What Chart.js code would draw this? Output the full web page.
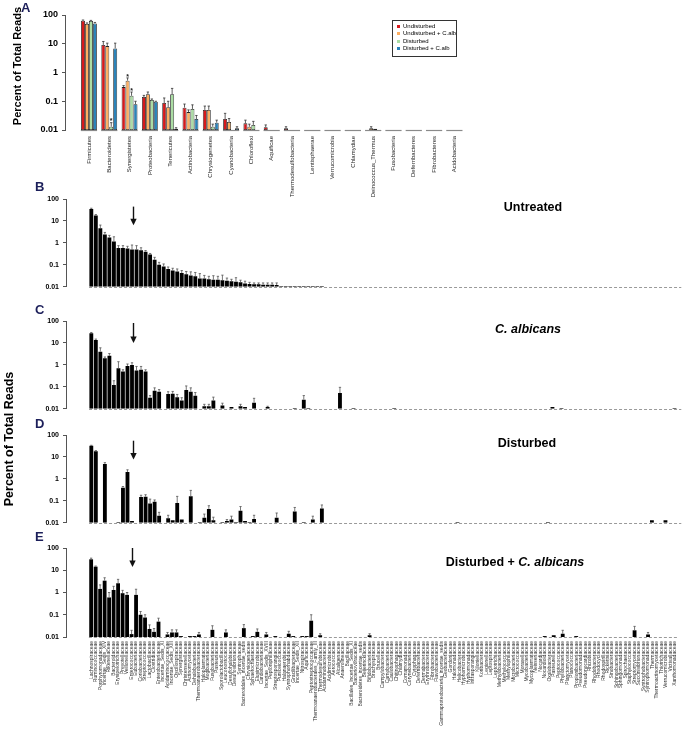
<!DOCTYPE html>
<html>
<head>
<meta charset="utf-8">
<script src="https://cdn.jsdelivr.net/npm/chart.js@4.4.0/dist/chart.umd.min.js"></script>
<style>
  body { margin: 0; background: #fff; font-family: "Liberation Sans", Arial, sans-serif; }
  #fig { position: relative; width: 685px; height: 739px; overflow: hidden; }
  canvas { position: absolute; }
  .letra { position: absolute; font-weight: bold; font-size: 13px; line-height: 13px; color: #1c1f5a; }
  .titulo { position: absolute; font-weight: bold; font-size: 12.5px; white-space: nowrap; transform: translate(-50%, -50%); }
  .ylab { position: absolute; width: 240px; text-align: center; font-weight: bold; white-space: nowrap; transform: rotate(-90deg); }
  #leyenda { position: absolute; left: 392px; top: 20px; width: 63px; height: 33px; border: 1px solid #333; font-size: 6px; line-height: 7.4px; padding-top: 2px; box-sizing: content-box; }
  #leyenda div { padding-left: 10px; position: relative; white-space: nowrap; }
  #leyenda span { position: absolute; left: 4px; top: 2px; width: 3px; height: 3px; }
</style>
</head>
<body>
<div id="fig">
  <canvas id="chartA" width="480" height="205" style="left:0;top:0"></canvas>
  <canvas id="chartB" width="685" height="110" style="left:0;top:185px"></canvas>
  <canvas id="chartC" width="685" height="110" style="left:0;top:307px"></canvas>
  <canvas id="chartD" width="685" height="110" style="left:0;top:421px"></canvas>
  <canvas id="chartE" width="685" height="205" style="left:0;top:534px"></canvas>

  <div class="letra" style="left:21px;top:1px">A</div>
  <div class="letra" style="left:35px;top:180px">B</div>
  <div class="letra" style="left:35px;top:303px">C</div>
  <div class="letra" style="left:35px;top:417px">D</div>
  <div class="letra" style="left:35px;top:530px">E</div>

  <div class="ylab" style="font-size:11px;left:-103px;top:60px">Percent of Total Reads</div>
  <div class="ylab" style="font-size:12.5px;left:-111px;top:432px">Percent of Total Reads</div>

  <div class="titulo" style="left:533px;top:207px">Untreated</div>
  <div class="titulo" style="left:528px;top:329px"><i>C. albicans</i></div>
  <div class="titulo" style="left:527px;top:443px">Disturbed</div>
  <div class="titulo" style="left:515px;top:562px">Disturbed + <i>C. albicans</i></div>

  <div id="leyenda">
    <div><span style="background:#d7191c"></span>Undisturbed</div>
    <div><span style="background:#fdae61"></span>Undisturbed + C.alb</div>
    <div><span style="background:#abdda4"></span>Disturbed</div>
    <div><span style="background:#2b83ba"></span>Disturbed + C.alb</div>
  </div>
</div>

<script>
// Panel A: filos
const filos = ['Firmicutes', 'Bacteroidetes', 'Synergistetes', 'Proteobacteria', 'Tenericutes', 'Actinobacteria',
  'Chrysiogenetes', 'Cyanobacteria', 'Chloroflexi', 'Aquificae', 'Thermodesulfobacteria', 'Lentisphaerae',
  'Verrucomicrobia', 'Chlamydiae', 'Deinococcus_Thermus', 'Fusobacteria', 'Deferribacteres', 'Fibrobacteres', 'Acidobacteria'];
const seriesA = ['Undisturbed', 'Undisturbed + C.alb', 'Disturbed', 'Disturbed + C.alb'];
const coloresA = ['#d7191c', '#fdae61', '#abdda4', '#2b83ba'];

const undistA     = [63, 9.1, 0.31, 0.14, 0.087, 0.06, 0.05, 0.024, 0.017, 0.0125, 0.0115, 0.01, 0.01, 0.01, 0.01, 0.01, 0.01, 0.01, 0.01];
const undistCalbA = [49, 8.3, 0.52, 0.175, 0.062, 0.042, 0.05, 0.019, 0.013, 0.01, 0.01, 0.01, 0.01, 0.01, 0.0115, 0.01, 0.01, 0.01, 0.01];
const distA       = [62, 0.013, 0.155, 0.11, 0.175, 0.054, 0.013, 0.01, 0.015, 0.01, 0.01, 0.01, 0.01, 0.01, 0.011, 0.01, 0.01, 0.01, 0.01];
const distCalbA   = [51, 6.9, 0.079, 0.096, 0.011, 0.024, 0.018, 0.0115, 0.01, 0.01, 0.01, 0.01, 0.01, 0.01, 0.01, 0.01, 0.01, 0.01, 0.01];

// extremo superior de las barras de error
const errUndistA     = [67, 12, 0.35, 0.16, 0.13, 0.08, 0.068, 0.038, 0.022, 0.015, 0.013, null, null, null, null, null, null, null, null];
const errUndistCalbA = [53, 10.5, 0.65, 0.21, 0.1, 0.05, 0.068, 0.025, 0.016, null, null, null, null, null, 0.013, null, null, null, null];
const errDistA       = [65, 0.018, 0.21, 0.12, 0.28, 0.075, 0.016, null, 0.02, null, null, null, null, null, null, null, null, null, null];
const errDistCalbA   = [55, 10.5, 0.1, 0.1, 0.012, 0.032, 0.022, 0.013, null, null, null, null, null, null, null, null, null, null, null];

// asteriscos: grupo, serie, valor
const astGrupo = [1, 2, 2];
const astSerie = [2, 1, 2];
const astValor = [0.024, 0.8, 0.27];

// Paneles B-E: familias
const familias = [
  'Lachnospiraceae', 'Ruminococcaceae', 'Porphyromonadaceae', 'Incertae_Sedis_XIV', 'Rikenellaceae', 'Bacteroidaceae', 'Erysipelotrichaceae', 'Prevotellaceae', 'Veillonellaceae', 'Enterococcaceae',
  'Eubacteriaceae', 'Coriobacteriaceae', 'Streptococcaceae', 'Lactobacillaceae', 'Clostridiaceae', 'Enterobacteriaceae', 'Incertae_Sedis_XI', 'Acidaminococcaceae', 'Incertae_Sedis_XIII', 'Oscillospiraceae',
  'Synergistaceae', 'Christensenellaceae', 'Actinomycetaceae', 'Dehalobacteriaceae', 'Thermoanaerobacteraceae', 'Haloplasmataceae', 'Mogibacteriaceae', 'Fusobacteriaceae', 'Pasteuriaceae', 'Sporolactobacillaceae',
  'Leuconostocaceae', 'Desulfohalobiaceae', 'Desulfovibrionaceae', 'Syntrophaceae', 'Bacteroidales_incertae_sedis', 'Chrysiogenaceae', 'Sphaerochaetaceae', 'Elusimicrobiaceae', 'Cardiobacteriaceae', 'Incertae_Sedis_XVIII',
  'Peptoniphilaceae', 'Streptosporangiaceae', 'Puniceicoccaceae', 'Halanaerobiaceae', 'Syntrophorhabdaceae', 'Gracilibacteraceae', 'Incertae_Sedis_XII', 'Nitrospiraceae', 'Aquificaceae', 'Peptostreptococcaceae',
  'Thermoanaerobacterales_Family_III', 'Thermodesulfobiaceae',
  'Acidaminobacteraceae', 'Acidimicrobiaceae', 'Aerococcaceae', 'Alcaligenaceae', 'Anaerolineaceae', 'Bacillaceae', 'Bacillales_Incertae_Sedis_XI', 'Bacteriovoracaceae', 'Bacteroidetes_incertae_sedis', 'Beijerinckiaceae',
  'Bifidobacteriaceae', 'Brachyspiraceae', 'Brucellaceae', 'Campylobacteraceae', 'Carnobacteriaceae', 'Caulobacteraceae', 'Chitinophagaceae', 'Chlamydiaceae', 'Comamonadaceae', 'Corynebacteriaceae',
  'Cytophagaceae', 'Deferribacteraceae', 'Dermabacteraceae', 'Erythrobacteraceae', 'Fibrobacteraceae', 'Flavobacteriaceae', 'Gammaproteobacteria_incertae_sedis', 'Geobacteraceae', 'Gordoniaceae', 'Halomonadaceae',
  'Helicobacteraceae', 'Hyphomicrobiaceae', 'Hyphomonadaceae', 'Intrasporangiaceae', 'Kiloniellaceae', 'Koribacteraceae', 'Legionellaceae', 'Leptospiraceae', 'Leptotrichiaceae', 'Methylobacteriaceae',
  'Methylococcaceae', 'Methylophilaceae', 'Microbacteriaceae', 'Micrococcaceae', 'Moraxellaceae', 'Mycobacteriaceae', 'Mycoplasmataceae', 'Neisseriaceae', 'Nocardiaceae', 'Nocardioidaceae',
  'Oxalobacteraceae', 'Pasteurellaceae', 'Peptococcaceae', 'Phyllobacteriaceae', 'Planctomycetaceae', 'Planococcaceae', 'Propionibacteriaceae', 'Pseudomonadaceae', 'Pseudonocardiaceae', 'Rhizobiaceae',
  'Rhodobacteraceae', 'Rhodocyclaceae', 'Rhodospirillaceae', 'Rickettsiaceae', 'Sinobacteraceae', 'Sphingobacteriaceae', 'Sphingomonadaceae', 'Spirochaetaceae', 'Staphylococcaceae', 'Streptomycetaceae',
  'Succinivibrionaceae', 'Syntrophobacteraceae', 'Syntrophomonadaceae', 'Thermaceae', 'Thermoactinomycetaceae', 'Thiotrichaceae', 'Verrucomicrobiaceae', 'Victivallaceae', 'Xanthomonadaceae'
];

// B: Untreated (barras 0..51)
const valB = [35, 17.8, 4.6, 2.4, 1.75, 1.15, 0.58, 0.58, 0.56, 0.5, 0.5, 0.46, 0.4, 0.3, 0.17, 0.1, 0.085, 0.065, 0.055, 0.05,
  0.042, 0.037, 0.033, 0.03, 0.024, 0.024, 0.022, 0.021, 0.021, 0.02, 0.019, 0.018, 0.017, 0.016, 0.014, 0.0135, 0.013, 0.013, 0.0125, 0.0125,
  0.0125, 0.012, 0.011, 0.011, 0.011, 0.011, 0.011, 0.011, 0.011, 0.011, 0.011, 0.011];
const posB = valB.map((v, i) => i);
const errB = [38, 19.5, 6.5, 3.0, 2.2, 1.9, 0.75, 0.75, 0.7, 0.8, 0.75, 0.6, 0.45, 0.33, 0.22, 0.13, 0.11, 0.08, 0.07, 0.065,
  0.055, 0.05, 0.048, 0.045, 0.04, 0.033, 0.03, 0.032, 0.03, 0.034, 0.025, 0.022, 0.026, 0.02, 0.018, 0.016, 0.015, 0.015, 0.015, 0.015,
  0.015, 0.015, null, null, null, null, null, null, null, null, null, null];

// C: C. albicans
const posC = [0, 1, 2, 3, 4, 5, 6, 7, 8, 9, 10, 11, 12, 13, 14, 15, 17, 18, 19, 20, 21, 22, 23, 25, 26, 27, 29, 31, 33, 34, 36, 39, 45, 47, 48, 55, 58, 67, 102, 104, 129];
const valC = [27.5, 13.7, 4, 2, 2.6, 0.12, 0.7, 0.5, 0.9, 1.0, 0.55, 0.6, 0.5, 0.032, 0.066, 0.06, 0.047, 0.048, 0.034, 0.024, 0.072, 0.06, 0.039,
  0.013, 0.013, 0.024, 0.014, 0.012, 0.013, 0.012, 0.019, 0.012, 0.011, 0.026, 0.011, 0.052, 0.011, 0.011, 0.012, 0.011, 0.011];
const errC = [30, 15, 6, 2.3, 3.3, 0.19, 1.4, 0.6, 1.1, 1.25, 0.85, 0.85, 0.6, 0.04, 0.09, 0.075, 0.06, 0.062, 0.045, 0.032, 0.11, 0.09, 0.055,
  0.016, 0.016, 0.034, 0.018, null, 0.016, null, 0.03, 0.013, null, 0.04, null, 0.095, null, null, null, null, null];

// D: Disturbed
const posD = [0, 1, 3, 6, 7, 8, 9, 11, 12, 13, 14, 15, 17, 18, 19, 20, 22, 24, 25, 26, 27, 29, 30, 31, 32, 33, 34, 35, 36, 41, 45, 47, 49, 51, 81, 101, 124, 127];
const valD = [32, 18, 4.8, 0.011, 0.4, 2.05, 0.012, 0.15, 0.155, 0.075, 0.09, 0.021, 0.016, 0.013, 0.08, 0.014, 0.16, 0.011, 0.017, 0.043, 0.013,
  0.011, 0.012, 0.014, 0.011, 0.035, 0.012, 0.011, 0.015, 0.017, 0.033, 0.011, 0.014, 0.045, 0.011, 0.011, 0.013, 0.013];
const errD = [34, 19.5, 5.5, null, 0.45, 2.6, null, 0.18, 0.19, 0.12, 0.11, 0.03, 0.022, null, 0.16, null, 0.3, null, 0.025, 0.06, 0.018,
  null, 0.014, 0.02, null, 0.055, null, null, 0.022, 0.028, 0.05, null, 0.02, 0.065, null, null, null, null];

// E: Disturbed + C. albicans
const posE = [0, 1, 2, 3, 4, 5, 6, 7, 8, 9, 10, 11, 12, 13, 14, 15, 17, 18, 19, 20, 22, 23, 24, 27, 30, 34, 36, 37, 39, 41, 44, 45, 47, 48, 49, 51, 62, 101, 103, 105, 108, 121, 124];
const valE = [31, 14.5, 1.45, 3.4, 0.6, 1.3, 2.6, 0.93, 0.78, 0.0135, 0.78, 0.1, 0.075, 0.023, 0.017, 0.049, 0.013, 0.016, 0.016, 0.011,
  0.011, 0.011, 0.013, 0.021, 0.016, 0.025, 0.011, 0.017, 0.013, 0.011, 0.014, 0.011, 0.011, 0.011, 0.054, 0.012, 0.012, 0.011, 0.012, 0.014, 0.011, 0.02, 0.013];
const errE = [35, 15.5, 2.2, 4.6, 1.0, 1.9, 3.9, 1.25, 1.0, 0.02, 1.4, 0.14, 0.1, 0.035, 0.024, 0.07, 0.016, 0.021, 0.021, null,
  null, null, 0.016, 0.032, 0.021, 0.036, null, 0.023, 0.016, null, 0.018, null, null, null, 0.1, 0.014, 0.014, null, null, 0.02, null, 0.03, 0.016];

// flechas (indice de barra y valores inicio / punta) para B, C, D, E
const flechaX = 9.2;
const flechaDesde = [45, 81, 55, 100];
const flechaHasta = [6.3, 10, 7.6, 14];

const ticksDecadas = [0.01, 0.1, 1, 10, 100];
const etiquetasDecadas = ['0.01', '0.1', '1', '10', '100'];

Chart.defaults.font.family = '"Liberation Sans", Arial, sans-serif';
Chart.defaults.color = '#000';

function ejeY(tam, ancho) {
  return {
    type: 'logarithmic', min: 0.01, max: 100,
    afterBuildTicks: s => { s.ticks = ticksDecadas.map(v => ({ value: v })); },
    afterFit: s => { s.width = ancho; },
    ticks: { callback: (v, i) => etiquetasDecadas[i], font: { size: tam, weight: 'bold' }, color: '#000', padding: 4 },
    grid: { drawOnChartArea: false, drawTicks: true, tickLength: 3, color: '#555' },
    border: { display: true, color: '#555', width: 1 }
  };
}

// barras de error (solo hacia arriba)
const pluginErrores = {
  id: 'errores',
  afterDatasetsDraw(chart) {
    const ctx = chart.ctx, y = chart.scales.y;
    chart.data.datasets.forEach((ds, d) => {
      if (!ds.errores) return;
      chart.getDatasetMeta(d).data.forEach((bar, i) => {
        const e = ds.errores[i];
        if (e == null) return;
        const py = y.getPixelForValue(e);
        const cap = Math.max(bar.width * 0.3, 1);
        ctx.save();
        ctx.strokeStyle = ds.colorError || '#555';
        ctx.lineWidth = 0.8;
        ctx.beginPath();
        ctx.moveTo(bar.x, bar.y);
        ctx.lineTo(bar.x, py);
        ctx.moveTo(bar.x - cap, py);
        ctx.lineTo(bar.x + cap, py);
        ctx.stroke();
        ctx.restore();
      });
    });
  }
};

// linea base discontinua en 0.01
const pluginBaseB = {
  id: 'baseB',
  beforeDatasetsDraw(chart) {
    const ctx = chart.ctx, x = chart.scales.x, y = chart.scales.y;
    const py = Math.round(y.getPixelForValue(0.01)) + 0.5;
    ctx.save();
    ctx.strokeStyle = '#9a9a9a';
    ctx.lineWidth = 1;
    ctx.setLineDash([3, 2]);
    ctx.beginPath();
    ctx.moveTo(x.getPixelForValue(-0.5), py);
    ctx.lineTo(x.getPixelForValue(familias.length - 0.5), py);
    ctx.stroke();
    ctx.restore();
  }
};

// segmentos de base en el panel A
const pluginBaseA = {
  id: 'baseA',
  beforeDatasetsDraw(chart) {
    const ctx = chart.ctx, x = chart.scales.x, y = chart.scales.y;
    const py = Math.round(y.getPixelForValue(0.01)) + 0.5;
    ctx.save();
    ctx.strokeStyle = '#8a8a8a';
    ctx.lineWidth = 1.2;
    filos.forEach((f, i) => {
      ctx.beginPath();
      ctx.moveTo(x.getPixelForValue(i - 0.4), py);
      ctx.lineTo(x.getPixelForValue(i + 0.4), py);
      ctx.stroke();
    });
    ctx.restore();
  }
};

const pluginAsteriscos = {
  id: 'asteriscos',
  afterDatasetsDraw(chart) {
    const ctx = chart.ctx, y = chart.scales.y;
    ctx.save();
    ctx.fillStyle = '#222';
    ctx.font = 'bold 7px "Liberation Sans", Arial';
    ctx.textAlign = 'center';
    ctx.textBaseline = 'middle';
    astGrupo.forEach((g, k) => {
      const bar = chart.getDatasetMeta(astSerie[k]).data[g];
      ctx.fillText('*', bar.x, y.getPixelForValue(astValor[k]) + 2);
    });
    ctx.restore();
  }
};

const pluginFlecha = {
  id: 'flecha',
  afterDatasetsDraw(chart, args, opts) {
    if (opts.desde == null) return;
    const ctx = chart.ctx;
    const px = Math.round(chart.scales.x.getPixelForValue(flechaX)) + 0.5;
    const y0 = chart.scales.y.getPixelForValue(opts.desde);
    const y1 = chart.scales.y.getPixelForValue(opts.hasta);
    ctx.save();
    ctx.strokeStyle = '#111';
    ctx.fillStyle = '#111';
    ctx.lineWidth = 1.4;
    ctx.beginPath();
    ctx.moveTo(px, y0);
    ctx.lineTo(px, y1 - 5);
    ctx.stroke();
    ctx.beginPath();
    ctx.moveTo(px - 3.2, y1 - 6.5);
    ctx.lineTo(px + 3.2, y1 - 6.5);
    ctx.lineTo(px, y1);
    ctx.closePath();
    ctx.fill();
    ctx.restore();
  }
};

// Gráfico A
const datosA = [undistA, undistCalbA, distA, distCalbA];
const erroresA = [errUndistA, errUndistCalbA, errDistA, errDistCalbA];
new Chart(document.getElementById('chartA'), {
  type: 'bar',
  data: {
    datasets: datosA.map((serie, s) => ({
      label: seriesA[s],
      data: serie.map((v, i) => ({ x: i, y: v })),
      errores: erroresA[s],
      colorError: '#333',
      backgroundColor: coloresA[s],
      borderColor: '#222',
      borderWidth: 0.8,
      borderSkipped: false,
      categoryPercentage: 0.78,
      barPercentage: 1
    }))
  },
  options: {
    responsive: false,
    animation: false,
    layout: { padding: { top: 15, right: 10, left: 0, bottom: 0 } },
    plugins: { legend: { display: false }, tooltip: { enabled: false } },
    scales: {
      x: {
        type: 'linear', min: -1.18, max: 18.77, offset: false,
        afterBuildTicks: s => { s.ticks = filos.map((f, i) => ({ value: i })); },
        afterFit: s => { s.height = 75; },
        grid: { display: false, drawTicks: false },
        border: { display: false },
        ticks: { autoSkip: false, minRotation: 90, maxRotation: 90, padding: 6, font: { size: 6 }, color: '#222', callback: (v, i) => filos[i] }
      },
      y: ejeY(9, 65)
    }
  },
  plugins: [pluginBaseA, pluginErrores, pluginAsteriscos]
});

// Gráficos B-E
function panel(id, pos, val, err, k, conEtiquetas, altoX) {
  new Chart(document.getElementById(id), {
    type: 'bar',
    data: {
      datasets: [{
        data: pos.map((p, i) => ({ x: p, y: val[i] })),
        errores: err,
        colorError: '#555',
        backgroundColor: '#000',
        borderWidth: 0,
        categoryPercentage: 1,
        barPercentage: 0.85
      }]
    },
    options: {
      responsive: false,
      animation: false,
      layout: { padding: { top: 14, right: 1, left: 0, bottom: conEtiquetas ? 0 : 7 } },
      plugins: {
        legend: { display: false },
        tooltip: { enabled: false },
        flecha: { desde: flechaDesde[k], hasta: flechaHasta[k] }
      },
      scales: {
        x: {
          type: 'linear', min: -5.6, max: 131.1, offset: false,
          display: conEtiquetas,
          afterBuildTicks: s => { s.ticks = familias.map((f, i) => ({ value: i })); },
          afterFit: s => { if (conEtiquetas) s.height = altoX; },
          grid: { display: false, drawTicks: false },
          border: { display: false },
          ticks: { autoSkip: false, minRotation: 90, maxRotation: 90, padding: 4, font: { size: 5 }, color: '#333', callback: (v, i) => familias[i] }
        },
        y: ejeY(7, 66)
      }
    },
    plugins: [pluginBaseB, pluginErrores, pluginFlecha]
  });
}

panel('chartB', posB, valB, errB, 0, false);
panel('chartC', posC, valC, errC, 1, false);
panel('chartD', posD, valD, errD, 2, false);
panel('chartE', posE, valE, errE, 3, true, 102);
</script>
</body>
</html>
